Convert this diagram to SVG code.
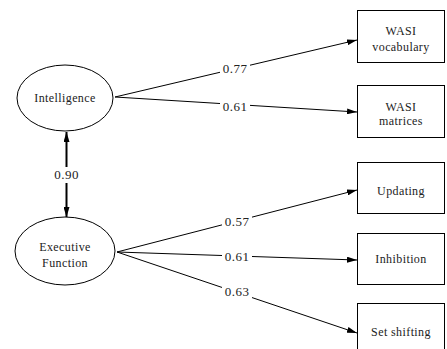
<svg xmlns="http://www.w3.org/2000/svg" width="447" height="349" viewBox="0 0 447 349">
<defs>
<marker id="ah" viewBox="0 0 10 6" refX="10" refY="3" markerWidth="10" markerHeight="6" markerUnits="userSpaceOnUse" orient="auto-start-reverse">
<path d="M0,0 L10,3 L0,6 z" fill="#000"/>
</marker>
<style>
.sh{fill:#fff;stroke:#000;stroke-width:1}
.t{font-family:'Liberation Serif','Times New Roman',serif;font-size:12px;letter-spacing:0.4px;fill:#222;text-anchor:middle}
.lbl{font-family:'Liberation Serif','Times New Roman',serif;font-size:13px;letter-spacing:0.5px;fill:#222;text-anchor:middle}
.ln{stroke:#000;stroke-width:1;fill:none;marker-end:url(#ah)}
.bg{fill:#fff}
</style>
</defs>
<rect width="447" height="349" fill="#fff"/>
<g id="connectors">
<line class="ln" x1="115" y1="97" x2="357" y2="40"/>
<line class="ln" x1="115" y1="97" x2="357" y2="112"/>
<line class="ln" x1="117" y1="252" x2="357" y2="190"/>
<line class="ln" x1="117" y1="252" x2="357" y2="260"/>
<line class="ln" x1="117" y1="252" x2="357" y2="333"/>
<line x1="66.5" y1="132" x2="66.5" y2="217" stroke="#000" stroke-width="2" marker-start="url(#ah)" marker-end="url(#ah)"/>
<rect class="bg" x="220" y="62" width="30" height="13"/>
<text class="lbl" x="235" y="73">0.77</text>
<rect class="bg" x="220" y="100" width="30" height="13"/>
<text class="lbl" x="235" y="111">0.61</text>
<rect class="bg" x="222" y="215" width="30" height="13"/>
<text class="lbl" x="237" y="226">0.57</text>
<rect class="bg" x="222" y="250" width="30" height="13"/>
<text class="lbl" x="237" y="261">0.61</text>
<rect class="bg" x="222" y="285" width="30" height="13"/>
<text class="lbl" x="237" y="296">0.63</text>
<rect class="bg" x="51" y="167" width="31" height="16"/>
<text class="lbl" x="66.5" y="179">0.90</text>
</g>
<g id="intelligence">
<ellipse class="sh" cx="65" cy="98" rx="48" ry="33"/>
<text class="t" x="65" y="102">Intelligence</text>
</g>
<g id="executive-function">
<ellipse class="sh" cx="65" cy="251" rx="50" ry="34"/>
<text class="t" x="65" y="251">Executive</text>
<text class="t" x="65" y="267">Function</text>
</g>
<g id="wasi-vocabulary">
<rect class="sh" x="357.5" y="10.5" width="87" height="52"/>
<text class="t" x="401" y="35">WASI</text>
<text class="t" x="401" y="51">vocabulary</text>
</g>
<g id="wasi-matrices">
<rect class="sh" x="357.5" y="85.5" width="87" height="52"/>
<text class="t" x="401" y="111">WASI</text>
<text class="t" x="401" y="125">matrices</text>
</g>
<g id="updating">
<rect class="sh" x="357.5" y="162.5" width="87" height="51"/>
<text class="t" x="401" y="195">Updating</text>
</g>
<g id="inhibition">
<rect class="sh" x="357.5" y="233.5" width="87" height="51"/>
<text class="t" x="401" y="263">Inhibition</text>
</g>
<g id="set-shifting">
<rect class="sh" x="357.5" y="303.5" width="87" height="52"/>
<text class="t" x="401" y="336">Set shifting</text>
</g>
</svg>
